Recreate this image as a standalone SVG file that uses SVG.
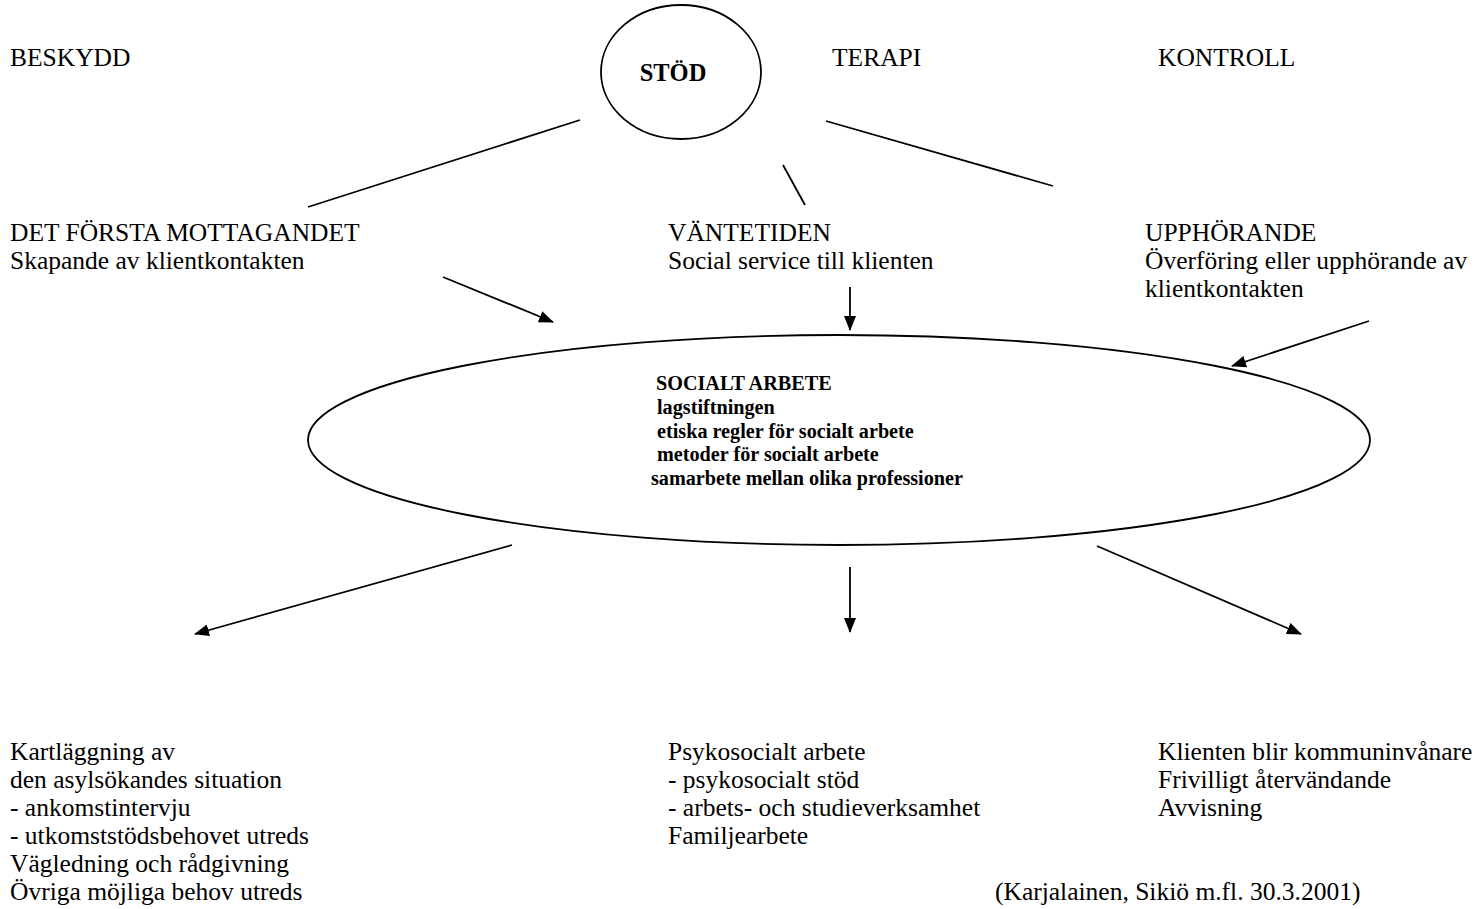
<svg xmlns="http://www.w3.org/2000/svg" width="1478" height="909" viewBox="0 0 1478 909">
<defs>
<style>
text{font-family:"Liberation Serif","Times New Roman",serif;font-size:25.5px;fill:#000}
.b{font-weight:bold;font-size:20.2px}
.s{font-weight:bold;font-size:24.5px}
.ln{stroke:#000;stroke-width:1.8;fill:none}
.ar{stroke:#000;stroke-width:1.8;fill:none;marker-end:url(#ah)}
</style>
<marker id="ah" markerWidth="15" markerHeight="12" refX="14" refY="6" orient="auto" markerUnits="userSpaceOnUse" viewBox="0 0 15 12">
<path d="M0,0 L15,6 L0,12 Z" fill="#000"/>
</marker>
</defs>
<rect width="1478" height="909" fill="#fff"/>
<g id="labels-top">
<text x="10" y="66">BESKYDD</text>
<text x="832" y="66">TERAPI</text>
<text x="1158" y="66">KONTROLL</text>
</g>
<g id="stod">
<ellipse cx="681" cy="72" rx="80" ry="67" class="ln"/>
<text x="673" y="81" class="s" text-anchor="middle">STÖD</text>
</g>
<g id="mottagandet">
<text x="10" y="241">DET FÖRSTA MOTTAGANDET</text>
<text x="10" y="269">Skapande av klientkontakten</text>
</g>
<g id="vantetiden">
<text x="668" y="241">VÄNTETIDEN</text>
<text x="668" y="269">Social service till klienten</text>
</g>
<g id="upphorande">
<text x="1145" y="241">UPPHÖRANDE</text>
<text x="1145" y="269">Överföring eller upphörande av</text>
<text x="1145" y="297">klientkontakten</text>
</g>
<g id="socialt-arbete">
<ellipse cx="839" cy="440" rx="531" ry="105" class="ln"/>
<text x="656" y="390" class="b">SOCIALT ARBETE</text>
<text x="657" y="414" class="b">lagstiftningen</text>
<text x="657" y="438" class="b">etiska regler för socialt arbete</text>
<text x="657" y="461" class="b">metoder för socialt arbete</text>
<text x="651" y="485" class="b">samarbete mellan olika professioner</text>
</g>
<g id="kartlaggning">
<text x="10" y="760">Kartläggning av</text>
<text x="10" y="788">den asylsökandes situation</text>
<text x="10" y="816">- ankomstintervju</text>
<text x="10" y="844">- utkomststödsbehovet utreds</text>
<text x="10" y="872">Vägledning och rådgivning</text>
<text x="10" y="900">Övriga möjliga behov utreds</text>
</g>
<g id="psykosocialt">
<text x="668" y="760">Psykosocialt arbete</text>
<text x="668" y="788">- psykosocialt stöd</text>
<text x="668" y="816">- arbets- och studieverksamhet</text>
<text x="668" y="844">Familjearbete</text>
</g>
<g id="klienten">
<text x="1158" y="760">Klienten blir kommuninvånare</text>
<text x="1158" y="788">Frivilligt återvändande</text>
<text x="1158" y="816">Avvisning</text>
</g>
<g id="citation">
<text x="995" y="900">(Karjalainen, Sikiö m.fl. 30.3.2001)</text>
</g>
<g id="connectors">
<line x1="580" y1="120" x2="308" y2="207" class="ln"/>
<line x1="783" y1="165" x2="805" y2="205" class="ln"/>
<line x1="826" y1="121" x2="1053" y2="186" class="ln"/>
<line x1="443" y1="277" x2="553" y2="322" class="ar"/>
<line x1="850" y1="287" x2="850" y2="330" class="ar"/>
<line x1="1369" y1="321" x2="1232" y2="366" class="ar"/>
<line x1="512" y1="545" x2="195" y2="634" class="ar"/>
<line x1="850" y1="567" x2="850" y2="632" class="ar"/>
<line x1="1097" y1="546" x2="1301" y2="634" class="ar"/>
</g>
</svg>
